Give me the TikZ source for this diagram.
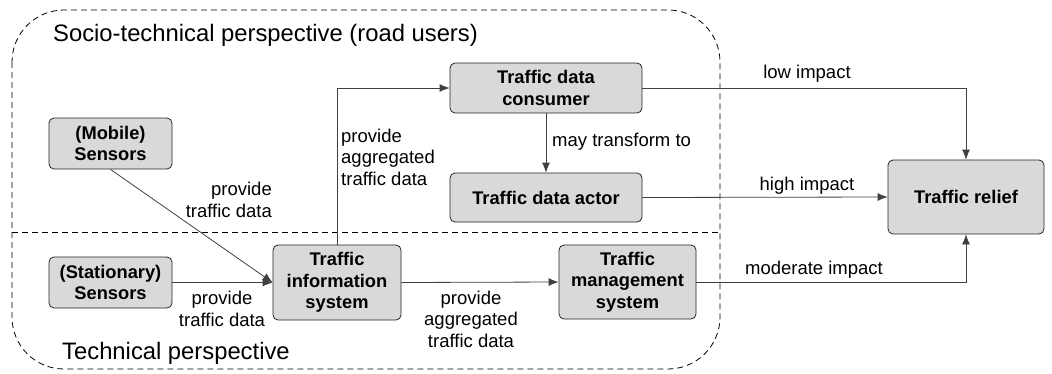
\documentclass[tikz,border=0pt]{standalone}
\usepackage{fontspec}
\setmainfont{Liberation Sans}
\usetikzlibrary{arrows.meta}
\begin{document}
\begin{tikzpicture}[x=1pt,y=-1pt,
  box/.style={draw=black!85,line width=0.8pt,fill=black!15,rounded corners=5pt,
    align=center,inner sep=0pt,font=\fontsize{18.3}{21.5}\selectfont\bfseries},
  conn/.style={draw=black!75,line width=0.8pt,-{Latex[length=10pt,width=8pt]}},
  lbl/.style={font=\fontsize{18.5}{21.5}\selectfont,inner sep=0pt},
  title/.style={font=\fontsize{23.8}{26}\selectfont,inner sep=0pt},
  region/.style={draw=black,line width=0.8pt,dash pattern=on 6pt off 4pt}]
\useasboundingbox (0,0) rectangle (1052,373);
% regions
\draw[region,rounded corners=52pt] (12,10) rectangle (720,369);
\draw[region] (12,232) -- (720,232);
\node[title,anchor=west] (t1) at (53,35) {Socio-technical perspective (road users)};
\node[title,anchor=west] (t2) at (62,353) {Technical perspective};
% nodes
\node[box,minimum width=123pt,minimum height=51pt] (mob) at (110.5,143.5) {(Mobile)\\Sensors};
\node[box,minimum width=123pt,minimum height=51pt] (sta) at (110.5,282.5) {(Stationary)\\Sensors};
\node[box,minimum width=128pt,minimum height=75pt] (tis) at (337,282.5) {Traffic\\information\\system};
\node[box,minimum width=192pt,minimum height=50pt] (tdc) at (546,88) {Traffic data\\consumer};
\node[box,minimum width=192pt,minimum height=49pt] (tda) at (546,197.5) {Traffic data actor};
\node[box,minimum width=137pt,minimum height=74pt] (tms) at (627.5,282) {Traffic\\management\\system};
\node[box,minimum width=156pt,minimum height=74pt] (rel) at (966,197) {Traffic relief};
% connectors
\draw[conn] (mob.south) -- (tis.west);
\draw[conn] (sta.east) -- (tis.west);
\draw[conn] (tis.north) |- (tdc.west);
\draw[conn] (tis.east) -- (tms.west);
\draw[conn] (tdc.south) -- (tda.north);
\draw[conn] (tdc.east) -| (rel.north);
\draw[conn] (tda.east) -- (rel.west);
\draw[conn] (tms.east) -| (rel.south);
% labels
\node[lbl,anchor=east,align=right] (l1) at (272,200) {provide\\traffic data};
\node[lbl,align=center] (l2) at (222,309) {provide\\traffic data};
\node[lbl,anchor=west,align=left] (l3) at (341,157) {provide\\aggregated\\traffic data};
\node[lbl,align=center] (l4) at (471,319) {provide\\aggregated\\traffic data};
\node[lbl,anchor=west] (l5) at (552,142) {may transform to};
\node[lbl] (l6) at (807,74) {low impact};
\node[lbl] (l7) at (807,186) {high impact};
\node[lbl] (l8) at (814,270) {moderate impact};
\end{tikzpicture}
\end{document}
